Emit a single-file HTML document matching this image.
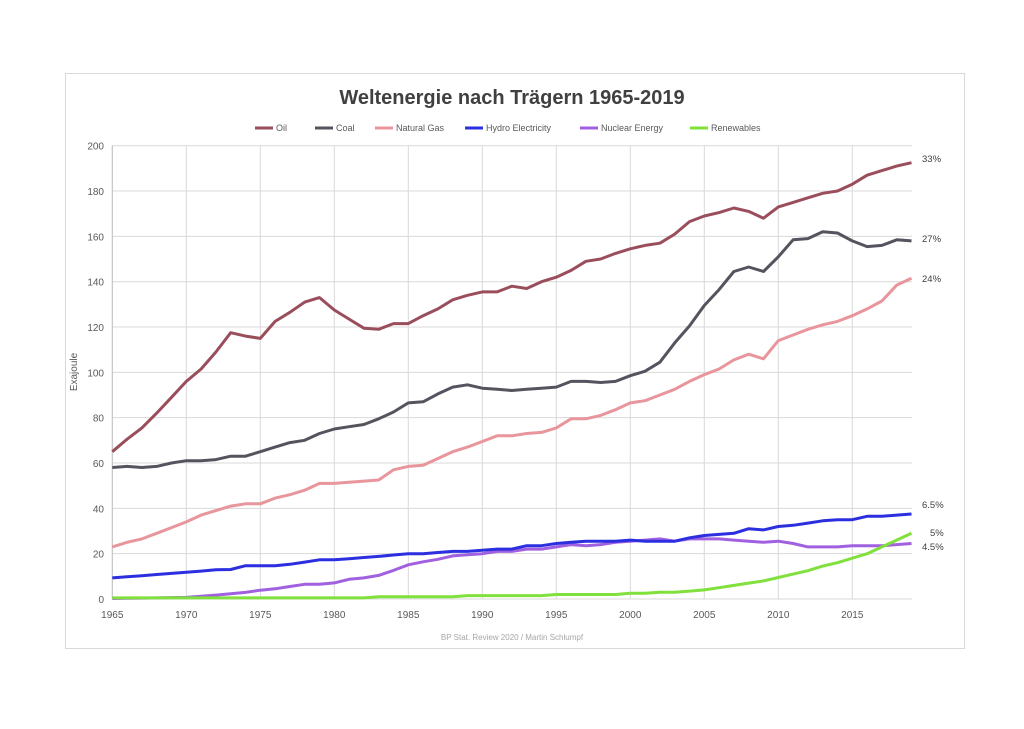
<!DOCTYPE html>
<html><head><meta charset="utf-8"><style>
body{margin:0;background:#fff;width:1024px;height:724px;overflow:hidden;font-family:"Liberation Sans",sans-serif}
</style></head><body>
<svg id="s" width="1024" height="724" xmlns="http://www.w3.org/2000/svg" font-family="Liberation Sans, sans-serif">
<rect x="65.5" y="73.5" width="899" height="575" fill="#fff" stroke="#d9d9d9"/>
<text x="512" y="104" text-anchor="middle" font-size="20" font-weight="bold" fill="#404040">Weltenergie nach Trägern 1965-2019</text>
<g id="g"></g>
</svg>
<script>
const g=document.getElementById('g');
const X=y=>112.3+(y-1965)*14.8, Y=v=>599-v*2.2665;
let h='';
for(let v=0;v<=200;v+=20){h+=`<line x1="112" x2="912" y1="${Y(v)}" y2="${Y(v)}" stroke="#d9d9d9"/><text x="104" y="${Y(v)+4}" text-anchor="end" font-size="10" fill="#595959">${v}</text>`;}
for(let y=1965;y<=2015;y+=5){h+=`<line x1="${X(y)}" x2="${X(y)}" y1="${Y(200)}" y2="599" stroke="#d9d9d9"/><text x="${X(y)}" y="618" text-anchor="middle" font-size="10" fill="#595959">${y}</text>`;}
h+=`<line x1="112.3" x2="112.3" y1="${Y(200)}" y2="599" stroke="#bfbfbf"/>`;
h+=`<text transform="translate(77,372) rotate(-90)" text-anchor="middle" font-size="10" fill="#595959">Exajoule</text>`;
h+=`<text x="512" y="640" text-anchor="middle" font-size="8" fill="#a6a6a6">BP Stat. Review 2020 / Martin Schlumpf</text>`;
const D={
oil:["#9a4e5c",[65,70.5,75.5,82,89,96,101.5,109,117.5,116,115,122.5,126.5,131,133,127.5,123.5,119.5,119,121.5,121.5,125,128,132,134,135.5,135.5,138,137,140,142,145,149,150,152.5,154.5,156,157,161,166.5,169,170.5,172.5,171,168,173,175,177,179,180,183,187,189,191,192.5]],
coal:["#55545e",[58,58.5,58,58.5,60,61,61,61.5,63,63,65,67,69,70,73,75,76,77,79.5,82.5,86.5,87,90.5,93.5,94.5,93,92.5,92,92.5,93,93.5,96,96,95.5,96,98.5,100.5,104.5,113,120.5,129.5,136.5,144.5,146.5,144.5,151,158.5,159,162,161.5,158,155.5,156,158.5,158]],
gas:["#e8959c",[23,25,26.5,29,31.5,34,37,39,41,42,42,44.5,46,48,51,51,51.5,52,52.5,57,58.5,59,62,65,67,69.5,72,72,73,73.5,75.5,79.5,79.5,81,83.5,86.5,87.5,90,92.5,96,99,101.5,105.5,108,106,114,116.5,119,121,122.5,125,128,131.5,138.5,141.5]],
hydro:["#2b2fe0",[9.3,9.8,10.3,10.8,11.3,11.8,12.3,12.9,13,14.7,14.7,14.7,15.3,16.3,17.3,17.3,17.8,18.3,18.8,19.4,20,20,20.5,21,21,21.5,22,22,23.5,23.5,24.5,25,25.5,25.5,25.5,26,25.5,25.5,25.5,27,28,28.5,29,31,30.5,32,32.5,33.5,34.5,35,35,36.5,36.5,37,37.5]],
nuc:["#a060e0",[0.2,0.3,0.4,0.5,0.6,0.7,1.2,1.7,2.3,2.9,3.9,4.5,5.5,6.5,6.5,7.1,8.7,9.3,10.4,12.6,15.1,16.4,17.5,19,19.5,20,21,21,22,22,23,24,23.5,24,25,25.5,26,26.5,25.5,26.5,26.5,26.5,26,25.5,25,25.5,24.5,23,23,23,23.5,23.5,23.5,24,24.5]],
ren:["#80e03c",[0.5,0.5,0.5,0.5,0.5,0.5,0.5,0.5,0.5,0.5,0.5,0.5,0.5,0.5,0.5,0.5,0.5,0.5,1,1,1,1,1,1,1.5,1.5,1.5,1.5,1.5,1.5,2,2,2,2,2,2.5,2.5,3,3,3.5,4,5,6,7,8,9.5,11,12.5,14.5,16,18,20,23,26,29]]};
for(const k of ['oil','coal','gas','nuc','hydro','ren']){const [c,a]=D[k];h+=`<polyline fill="none" stroke="${c}" stroke-width="3" stroke-linejoin="round" points="${a.map((v,i)=>X(1965+i).toFixed(1)+','+Y(v).toFixed(1)).join(' ')}"/>`;}
const L=[["Oil","#9a4e5c",255],["Coal","#55545e",315],["Natural Gas","#e8959c",375],["Hydro Electricity","#2b2fe0",465],["Nuclear Energy","#a060e0",580],["Renewables","#80e03c",690]];
for(const [t,c,x] of L){h+=`<line x1="${x}" x2="${x+18}" y1="128" y2="128" stroke="${c}" stroke-width="3"/><text x="${x+21}" y="131" font-size="9" fill="#595959">${t}</text>`;}
const P=[["33%",162],["27%",242],["24%",282],["6.5%",508],["5%",536],["4.5%",550]];
for(const [t,y] of P){h+=`<text x="${t=='5%'?930:922}" y="${y}" font-size="9.5" fill="#404040">${t}</text>`;}
g.innerHTML=h;
</script>
</body></html>
